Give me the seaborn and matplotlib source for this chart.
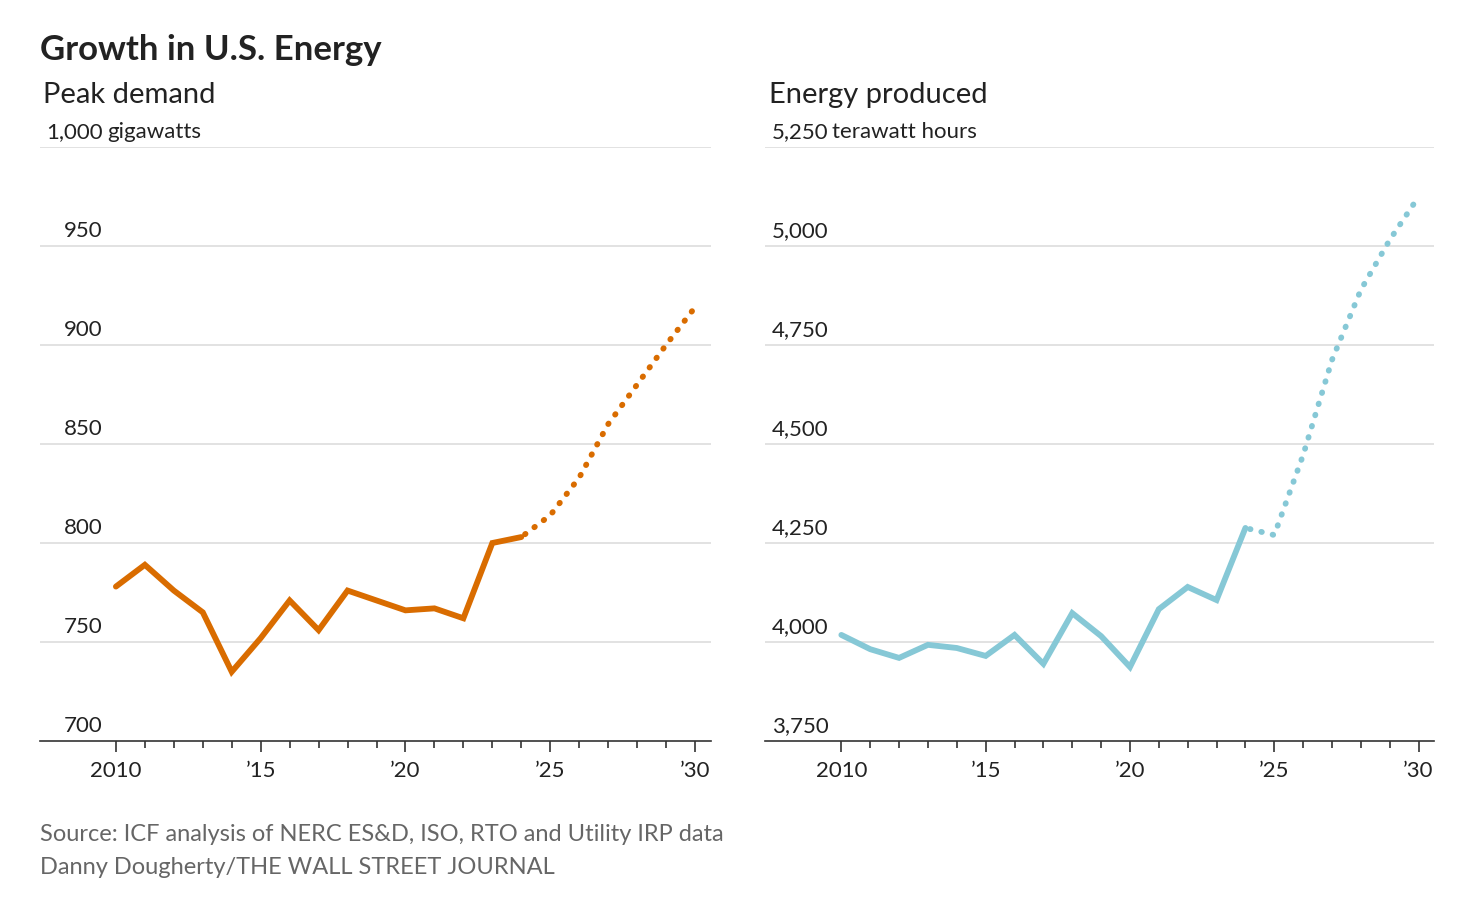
import numpy as np
import pandas as pd
import matplotlib.pyplot as plt
import seaborn as sns

# data
years = list(range(2010, 2025))
peak_actual = [778, 789, 776, 765, 735, 752, 771, 756, 776, 771, 766, 767, 762, 800, 803]
proj_years = list(range(2024, 2031))
peak_proj = [803, 814, 833, 860, 880, 900, 919]

energy_actual = [4018, 3982, 3960, 3993, 3985, 3965, 4018, 3945, 4073, 4015, 3937, 4083, 4139, 4106, 4288]
energy_proj = [4288, 4270, 4472, 4712, 4889, 5015, 5124]

xtick_labels = {2010: "2010", 2015: "\u201915", 2020: "\u201920", 2025: "\u201925", 2030: "\u201930"}

sns.set_style("white")
plt.rcParams['font.family'] = ['Lato', 'DejaVu Sans']

fig = plt.figure(figsize=(14.72, 9.06), dpi=100)
ax1 = fig.add_axes([0.027, 0.182, 0.456, 0.656])
ax2 = fig.add_axes([0.520, 0.182, 0.4545, 0.656])

panels = [
    (ax1, peak_actual, peak_proj, "#d96c00", (700, 1000), 50, "gigawatts", "Peak demand"),
    (ax2, energy_actual, energy_proj, "#86c8d6", (3750, 5250), 250, "terawatt hours", "Energy produced"),
]

for ax, actual, proj, color, ylim, step, unit, subtitle in panels:
    sns.lineplot(x=years, y=actual, ax=ax, color=color, lw=4.2, solid_joinstyle="miter")
    sns.lineplot(x=proj_years, y=proj, ax=ax, color=color, lw=4.2,
                 linestyle=(1.2, (0.1, 1.9)), dash_capstyle="round")
    ax.set_xlim(2007.37, 2030.55)
    ax.set_ylim(*ylim)
    for v in np.arange(ylim[0], ylim[1] + 1, step):
        if v > ylim[0]:
            ax.axhline(v, color="#dddddd", lw=1.2, zorder=0)
        label = f"{int(v):,}"
        ax.text(0.094, (v - ylim[0]) / (ylim[1] - ylim[0]) + 0.008, label,
                transform=ax.transAxes, ha="right", va="bottom", fontsize=16, color="#222222")
        if v == ylim[1]:
            ax.text(0.1, 1.008, unit, transform=ax.transAxes, ha="left", va="bottom",
                    fontsize=16, color="#222222")
    ax.set_yticks([])
    ax.set_xticks(list(xtick_labels.keys()))
    ax.set_xticklabels(list(xtick_labels.values()), fontsize=16, color="#222222")
    ax.set_xticks(range(2010, 2031), minor=True)
    ax.tick_params(axis="x", which="both", bottom=True, direction="out", length=8, width=1.2,
                   color="#333333", pad=6)
    ax.tick_params(axis="x", which="minor", length=5)
    for s in ["top", "right", "left"]:
        ax.spines[s].set_visible(False)
    ax.spines["bottom"].set_color("#333333")
    ax.spines["bottom"].set_linewidth(1.2)
    ax.text(0.005, 1.065, subtitle, transform=ax.transAxes, ha="left", va="bottom",
            fontsize=21, color="#222222")

fig.text(0.027, 0.945, "Growth in U.S. Energy", fontsize=25, fontweight="bold", color="#222222", va="center")
fig.text(0.027, 0.079, "Source: ICF analysis of NERC ES&D, ISO, RTO and Utility IRP data",
         fontsize=17, color="#666666", va="center")
fig.text(0.027, 0.042, "Danny Dougherty/THE WALL STREET JOURNAL", fontsize=17, color="#666666", va="center")

fig.savefig("out.png", dpi=100)
